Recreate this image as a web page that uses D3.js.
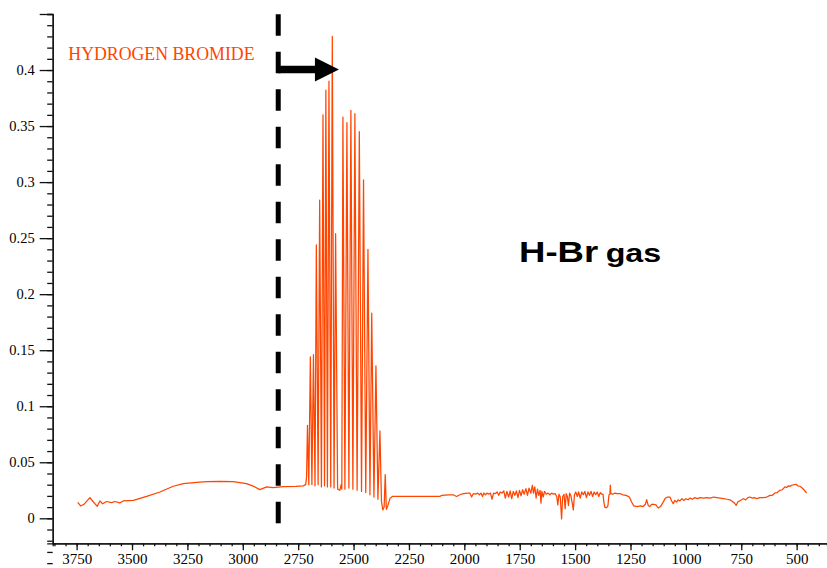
<!DOCTYPE html>
<html>
<head>
<meta charset="utf-8">
<script src="https://cdn.jsdelivr.net/npm/d3@7"></script>
<style>
  body { margin: 0; background: #fff; }
  svg { display: block; }
</style>
</head>
<body>
<svg></svg>
<script>
const width = 827;
const height = 568;

// spectrum (wavenumber cm-1 / absorbance)
const leftWn  = [3745, 3732, 3717, 3690, 3676, 3657, 3645, 3633, 3615, 3592, 3577, 3555, 3540, 3494, 3434, 3374, 3314, 3269, 3208, 3163, 3100, 3043, 2983, 2945, 2923, 2892, 2863, 2817, 2760, 2727];
const leftAbs = [0.0143, 0.011, 0.0125, 0.0185, 0.015, 0.0107, 0.0155, 0.013, 0.015, 0.014, 0.015, 0.0137, 0.0155, 0.016, 0.0196, 0.0235, 0.0286, 0.031, 0.032, 0.0327, 0.033, 0.0327, 0.031, 0.028, 0.0256, 0.028, 0.0274, 0.0283, 0.0285, 0.029];

// P and R branch lines (valley, peak, valley, ...)
const branchWn  = [2716, 2712, 2708, 2702, 2695, 2688, 2681, 2674, 2668, 2660, 2653, 2645, 2638, 2631, 2625, 2618, 2611, 2603, 2596, 2588, 2581, 2572, 2562, 2556, 2553, 2548, 2539, 2530, 2521, 2512, 2503, 2494, 2484, 2474, 2464, 2455, 2445, 2435, 2426, 2418, 2408, 2399, 2390, 2381, 2374, 2368, 2362, 2357, 2352, 2345, 2335, 2325];
const branchAbs = [0.030, 0.037, 0.083, 0.030, 0.144, 0.030, 0.146, 0.029, 0.244, 0.030, 0.284, 0.028, 0.360, 0.029, 0.382, 0.028, 0.390, 0.028, 0.430, 0.027, 0.254, 0.026, 0.025, 0.030, 0.026, 0.358, 0.026, 0.353, 0.027, 0.364, 0.026, 0.361, 0.025, 0.345, 0.024, 0.302, 0.023, 0.240, 0.021, 0.183, 0.019, 0.136, 0.017, 0.078, 0.015, 0.0075, 0.010, 0.039, 0.008, 0.0115, 0.018, 0.0195];

const rightWn  = [2313, 2200, 2110, 2102, 2070, 2050, 2035, 2020, 2005, 1985, 1975, 1967, 1960, 1950, 1940, 1932, 1925, 1918, 1912, 1905, 1898, 1890, 1882, 1875, 1868, 1860, 1852, 1845, 1838, 1830, 1822, 1815, 1808, 1800, 1793, 1786, 1779, 1772, 1765, 1758, 1751, 1744, 1737, 1730, 1722, 1715, 1708, 1700, 1693, 1688, 1682, 1676, 1670, 1664, 1658, 1654, 1650, 1644, 1638, 1630, 1622, 1614, 1606, 1598, 1590, 1583, 1578, 1573, 1567, 1561, 1556, 1550, 1545, 1540, 1535, 1530, 1525, 1519, 1513, 1508, 1503, 1497, 1490, 1484, 1477, 1470, 1463, 1456, 1449, 1442, 1435, 1428, 1421, 1414, 1407, 1400, 1393, 1386, 1380, 1374, 1370, 1365, 1358, 1352, 1347, 1343, 1341, 1339, 1330, 1320, 1310, 1297, 1285, 1270, 1255, 1245, 1235, 1220, 1205, 1193, 1183, 1177, 1170, 1163, 1155, 1145, 1135, 1125, 1115, 1105, 1094, 1083, 1072, 1064, 1057, 1050, 1042, 1035, 1027, 1018, 1010, 1000, 990, 982, 970, 960, 948, 936, 920, 905, 890, 875, 861, 845, 830, 815, 801, 790, 780, 773, 766, 758, 748, 740, 730, 720, 711, 700, 690, 680, 666, 650, 635, 620, 610, 598, 588, 575, 565, 553, 545, 537, 530, 523, 515, 503, 495, 485, 475, 465, 455];
const rightAbs = [0.0195, 0.0195, 0.0195, 0.0205, 0.021, 0.021, 0.0195, 0.021, 0.022, 0.0225, 0.0225, 0.019, 0.022, 0.0215, 0.0225, 0.021, 0.0225, 0.0195, 0.0225, 0.021, 0.0225, 0.0215, 0.0225, 0.017, 0.0225, 0.022, 0.0235, 0.0205, 0.0235, 0.0225, 0.0245, 0.018, 0.024, 0.019, 0.0245, 0.0175, 0.024, 0.0205, 0.0245, 0.0185, 0.025, 0.02, 0.0255, 0.0215, 0.0265, 0.0205, 0.027, 0.0225, 0.0295, 0.0225, 0.028, 0.018, 0.026, 0.0205, 0.025, 0.0135, 0.024, 0.019, 0.024, 0.0215, 0.0225, 0.021, 0.0225, 0.0215, 0.022, 0.0195, 0.012, 0.0215, 0.019, -0.0005, 0.0195, 0.0215, 0.0085, 0.022, 0.0195, 0.0115, 0.0225, 0.02, 0.0135, 0.0075, 0.021, 0.0235, 0.0195, 0.0235, 0.018, 0.0235, 0.021, 0.024, 0.0185, 0.0235, 0.0205, 0.024, 0.0195, 0.0235, 0.021, 0.0235, 0.0195, 0.023, 0.0215, 0.0215, 0.014, 0.0095, 0.0095, 0.011, 0.021, 0.0215, 0.0295, 0.022, 0.0215, 0.0225, 0.022, 0.022, 0.021, 0.0205, 0.019, 0.0145, 0.011, 0.0105, 0.011, 0.0105, 0.0125, 0.0166, 0.0115, 0.0105, 0.0125, 0.0125, 0.012, 0.0092, 0.0105, 0.0135, 0.0176, 0.019, 0.019, 0.0155, 0.013, 0.016, 0.0145, 0.0165, 0.0155, 0.0175, 0.016, 0.0175, 0.0165, 0.018, 0.017, 0.0185, 0.0175, 0.0185, 0.018, 0.0185, 0.018, 0.019, 0.0185, 0.018, 0.0175, 0.017, 0.0165, 0.015, 0.0135, 0.0115, 0.0145, 0.0155, 0.0165, 0.0175, 0.0165, 0.0185, 0.019, 0.018, 0.0185, 0.0175, 0.0185, 0.0185, 0.019, 0.0205, 0.0205, 0.0226, 0.023, 0.025, 0.0255, 0.028, 0.0275, 0.029, 0.0285, 0.0295, 0.0298, 0.0304, 0.029, 0.0286, 0.027, 0.025, 0.0226];

// axis ticks
const xTickValues = [3750, 3500, 3250, 3000, 2750, 2500, 2250, 2000, 1750, 1500, 1250, 1000, 750, 500];
const yTickValues = [0, 0.05, 0.1, 0.15, 0.2, 0.25, 0.3, 0.35, 0.4];

// annotations
const markerWn = 2840;
const arrowEndWn = 2566;
const arrowAbs = 0.4;
const titleText = 'HYDROGEN BROMIDE';

const lineColor = '#ff4500';
const serif = '"Liberation Serif", "Times New Roman", serif';

let svg = d3.select('svg')
    .attr('width', width)
    .attr('height', height);

let xScale = d3.scaleLinear()
    .domain([3858, 363])
    .range([52.7, 827]);

let yScale = d3.scaleLinear()
    .domain([-0.0223, 0.45])
    .range([543.3, 14]);

function buildSpectrum() {
    let wn = leftWn.concat(branchWn, rightWn);
    let abs = leftAbs.concat(branchAbs, rightAbs);
    return wn.map((w, i) => [w, abs[i]]);
}

function drawAxes() {
    // minor ticks first
    let xMinor = d3.range(400, 3851, 50);
    let yMinor = d3.range(-20, 46, 1).map(d => d / 100);

    let xAxisMinor = d3.axisBottom(xScale)
        .tickValues(xMinor)
        .tickSize(3)
        .tickFormat('');
    let yAxisMinor = d3.axisLeft(yScale)
        .tickValues(yMinor)
        .tickSize(5.5)
        .tickFormat('');

    svg.append('g')
        .attr('transform', 'translate(0,' + yScale.range()[0] + ')')
        .call(xAxisMinor);
    svg.append('g')
        .attr('transform', 'translate(' + xScale.range()[0] + ',0)')
        .call(yAxisMinor);

    let xAxis = d3.axisBottom(xScale)
        .tickValues(xTickValues)
        .tickSize(7)
        .tickSizeOuter(0)
        .tickPadding(3)
        .tickFormat(d3.format('d'));

    let yAxis = d3.axisLeft(yScale)
        .tickValues(yTickValues.concat([0.45]))
        .tickSize(13)
        .tickSizeOuter(0)
        .tickPadding(4)
        .tickFormat(d => d === 0.45 ? '' : d3.format('')(d));

    let gx = svg.append('g')
        .attr('id', 'x-axis')
        .attr('transform', 'translate(0,' + yScale.range()[0] + ')')
        .call(xAxis);
    gx.selectAll('text')
        .style('font-family', serif)
        .style('font-size', '15px');

    let gy = svg.append('g')
        .attr('id', 'y-axis')
        .attr('transform', 'translate(' + xScale.range()[0] + ',0)')
        .call(yAxis);
    gy.selectAll('text')
        .style('font-family', serif)
        .style('font-size', '14.5px')
        .attr('x', -18);

    svg.selectAll('.domain, .tick line')
        .attr('stroke', '#111')
        .attr('stroke-width', 1.3);
}

function drawSpectrum(data) {
    let line = d3.line()
        .x(d => xScale(d[0]))
        .y(d => yScale(d[1]));

    svg.append('path')
        .datum(data)
        .attr('d', line)
        .attr('fill', 'none')
        .attr('stroke', lineColor)
        .attr('stroke-width', 1.25)
        .attr('stroke-linejoin', 'round');
}

function drawAnnotations() {
    let mx = xScale(markerWn);

    // dashed marker line, drawn from the bottom up
    svg.append('line')
        .attr('x1', mx).attr('x2', mx)
        .attr('y1', 523.3).attr('y2', 0)
        .attr('stroke', '#000')
        .attr('stroke-width', 5)
        .attr('stroke-dasharray', '21.5,16');

    // arrow
    let ay = yScale(arrowAbs) - 0.6;
    let tip = xScale(arrowEndWn);
    let headLen = 24;
    let arrowPath = d3.path();
    arrowPath.moveTo(mx, ay - 3.8);
    arrowPath.lineTo(tip - headLen, ay - 3.8);
    arrowPath.lineTo(tip - headLen, ay - 12);
    arrowPath.lineTo(tip, ay);
    arrowPath.lineTo(tip - headLen, ay + 12);
    arrowPath.lineTo(tip - headLen, ay + 3.8);
    arrowPath.lineTo(mx, ay + 3.8);
    arrowPath.closePath();
    svg.append('path')
        .attr('d', arrowPath.toString())
        .attr('fill', '#000');

    svg.append('text')
        .attr('x', 68.3)
        .attr('y', 60)
        .attr('fill', lineColor)
        .style('font-family', serif)
        .style('font-size', '17.8px')
        .text(titleText);

    let label = svg.append('text')
        .attr('transform', 'translate(519,262) scale(1.24,1)')
        .style('font-family', '"Liberation Sans", Arial, sans-serif')
        .style('font-weight', 'bold')
        .attr('fill', '#000');
    label.append('tspan')
        .style('font-size', '29.5px')
        .text('H-Br');
    label.append('tspan')
        .style('font-size', '26px')
        .attr('dx', 6)
        .text('gas');
}

function main() {
    let data = buildSpectrum();
    drawAxes();
    drawSpectrum(data);
    drawAnnotations();
}

main();
</script>
</body>
</html>
